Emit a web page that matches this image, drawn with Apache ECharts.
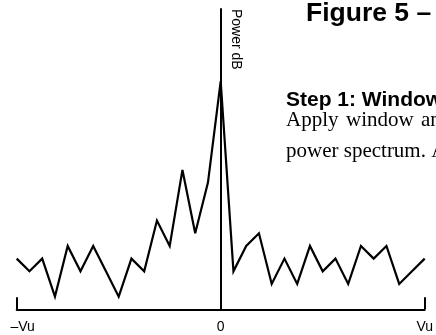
<!DOCTYPE html>
<html>
<head>
<meta charset="utf-8">
<script src="https://cdn.jsdelivr.net/npm/echarts@6/dist/echarts.min.js"></script>
<style>
  html, body { margin: 0; padding: 0; background: #fff; }
  #chart { width: 436px; height: 335px; }
</style>
</head>
<body>
<div id="chart"></div>
<script>
// Frequency bins, from -Vu to +Vu
const freqBins = [-16, -15, -14, -13, -12, -11, -10, -9, -8, -7, -6, -5, -4, -3, -2, -1, 0,
                  1, 2, 3, 4, 5, 6, 7, 8, 9, 10, 11, 12, 13, 14, 15, 16];
// Power level per bin (dB, relative)
const powerDb = [4, 3, 4, 1, 5, 3, 5, 3, 1, 4, 3, 7, 5, 11, 6, 10, 18,
                 3, 5, 6, 2, 4, 2, 5, 3, 4, 2, 5, 4, 5, 2, 3, 4];
// Tick labels on the frequency axis
const tickLabels = { '-16': '–Vu', '0': '0', '16': 'Vu' };

const SANS = 'Liberation Sans, Arial, Helvetica, sans-serif';
const SERIF = 'Liberation Serif, Times New Roman, serif';

const chart = echarts.init(document.getElementById('chart'), null, { renderer: 'canvas' });

function txt(text, x, y, font, extra) {
  return Object.assign({
    type: 'text',
    x: x, y: y,
    silent: true,
    style: {
      text: text,
      font: font,
      fill: '#000',
      align: 'left', textAlign: 'left',
      verticalAlign: 'middle', textVerticalAlign: 'middle'
    }
  }, extra || {});
}

chart.setOption({
  animation: false,
  backgroundColor: '#fff',
  grid: { left: 16.7, right: 9.2, top: 9, bottom: 25.7, containLabel: false },
  xAxis: {
    type: 'value',
    min: -16, max: 16, interval: 16,
    axisLine: { show: true, onZero: false, lineStyle: { color: '#000', width: 2 } },
    axisTick: { show: true, inside: true, length: 12, lineStyle: { color: '#000', width: 2 } },
    splitLine: { show: false },
    axisLabel: {
      color: '#000', fontSize: 14, fontFamily: SANS, margin: 11,
      formatter: function (v) {
        const s = tickLabels[String(v)] || '';
        return v === -16 ? '{l|' + s + '}' : s;
      },
      rich: { l: { fontSize: 14, fontFamily: SANS, color: '#000', padding: [0, 0, 0, 12] } }
    }
  },
  yAxis: {
    type: 'value',
    min: 0, max: 23.7,
    axisLine: { show: true, onZero: true, lineStyle: { color: '#000', width: 2 } },
    axisTick: { show: false },
    axisLabel: { show: false },
    splitLine: { show: false }
  },
  series: [{
    type: 'line',
    data: freqBins.map((f, i) => [f, powerDb[i]]),
    symbol: 'none',
    lineStyle: { color: '#000', width: 2.2, join: 'miter', miterLimit: 4 },
    z: 1
  }],
  graphic: [
    txt('Power dB', 236, 9, '14px ' + SANS, { rotation: -Math.PI / 2 }),
    txt('Figure 5 –', 306, 14, 'bold 26.5px ' + SANS),
    txt('Step 1: Window', 286, 100.5, 'bold 21px ' + SANS),
    txt('Apply', 286, 120.6, '21px ' + SERIF),
    txt('window', 346, 120.6, '21px ' + SERIF),
    txt('and', 421, 120.6, '21px ' + SERIF),
    txt('power spectrum. A', 286, 151.6, '21px ' + SERIF)
  ]
});
</script>
</body>
</html>
